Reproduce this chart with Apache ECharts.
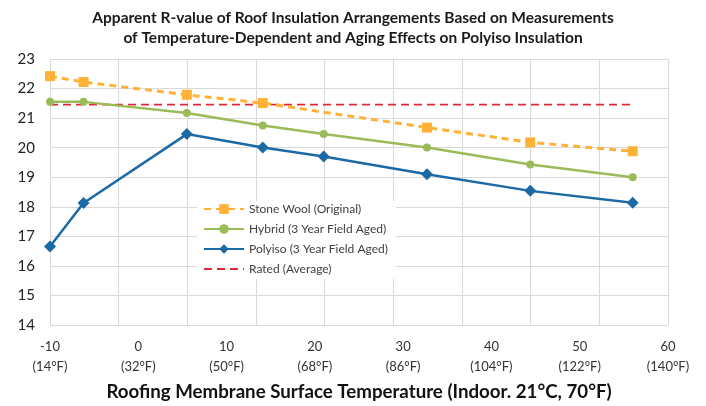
<!DOCTYPE html>
<html><head><meta charset="utf-8">
<script src="https://cdn.jsdelivr.net/npm/echarts@6/dist/echarts.min.js"></script>
<style>html,body{margin:0;padding:0;background:#fff}#c{width:706px;height:406px}</style>
</head><body><div id="c"></div>
<script>
const titleText = 'Apparent R-value of Roof Insulation Arrangements Based on Measurements\nof Temperature-Dependent and Aging Effects on Polyiso Insulation';
const xAxisTitle = 'Roofing Membrane Surface Temperature (Indoor. 21°C, 70°F)';
const xTickValues = [-10, 0, 10, 20, 30, 40, 50, 60];
const xTickLabels = ['-10\n(14°F)', '0\n(32°F)', '10\n(50°F)', '20\n(68°F)', '30\n(86°F)', '40\n(104°F)', '50\n(122°F)', '60\n(140°F)'];
const seriesNames = ['Stone Wool (Original)', 'Hybrid (3 Year Field Aged)', 'Polyiso (3 Year Field Aged)', 'Rated (Average)'];
const stoneWoolX = [-10, -6.2, 5.5, 14.1, 32.7, 44.4, 56.0];
const stoneWoolY = [22.42, 22.22, 21.79, 21.51, 20.68, 20.18, 19.88];
const hybridX = [-10, -6.2, 5.5, 14.1, 21.0, 32.7, 44.4, 56.0];
const hybridY = [21.55, 21.55, 21.17, 20.75, 20.46, 20.01, 19.43, 19.0];
const polyisoX = [-10, -6.2, 5.5, 14.1, 21.0, 32.7, 44.4, 56.0];
const polyisoY = [16.66, 18.13, 20.46, 20.01, 19.70, 19.10, 18.54, 18.14];
const ratedX = [-10, 56.0];
const ratedY = [21.46, 21.46];

const pair = (xs, ys) => xs.map((x, i) => [x, ys[i]]);
const FONT = 'Lato, "Open Sans", sans-serif';

const chart = echarts.init(document.getElementById('c'), null, {renderer: 'canvas'});
chart.setOption({
  animation: false,
  backgroundColor: '#fff',
  textStyle: {fontFamily: FONT},
  title: {
    text: titleText, left: 'center', top: 3,
    textStyle: {fontFamily: FONT, fontSize: 15.5, fontWeight: 'bold', color: '#1a1a1a', lineHeight: 20}
  },
  grid: {left: 50, right: 38, top: 59, bottom: 77},
  legend: {
    orient: 'vertical', left: 197, top: 201,
    backgroundColor: '#fff', padding: [2, 8, 4, 6],
    itemWidth: 40, itemHeight: 12, itemGap: 8,
    textStyle: {fontFamily: FONT, fontSize: 12, color: '#404040'},
    data: [seriesNames[0], seriesNames[1], seriesNames[2], {name: seriesNames[3], itemStyle: {opacity: 0}}]
  },
  xAxis: [{
    type: 'value', min: -10, max: 60, interval: 10,
    axisLine: {show: false}, axisTick: {show: false}, splitLine: {show: false},
    axisLabel: {
      margin: 12, fontSize: 13, color: '#333', lineHeight: 20, fontFamily: FONT,
      formatter: v => { const i = xTickValues.indexOf(Math.round(v)); return i >= 0 ? xTickLabels[i] : ''; }
    },
    name: xAxisTitle, nameLocation: 'middle', nameGap: 48,
    nameTextStyle: {fontFamily: FONT, fontSize: 18.7, fontWeight: 'bold', color: '#111'}
  }, {
    type: 'value', min: 0, max: 9, interval: 1, position: 'bottom',
    axisLine: {show: false}, axisTick: {show: false}, axisLabel: {show: false},
    splitLine: {show: true, lineStyle: {color: '#d9d9d9', width: 1}}
  }],
  yAxis: {
    type: 'value', min: 14, max: 23, interval: 1,
    axisLine: {show: false}, axisTick: {show: false},
    axisLabel: {fontSize: 15, color: '#222', margin: 15, fontFamily: FONT},
    splitLine: {lineStyle: {color: '#d9d9d9', width: 1}}
  },
  series: [{
    name: seriesNames[0], type: 'line', data: pair(stoneWoolX, stoneWoolY),
    symbol: 'rect', symbolSize: 10, color: '#FFB236',
    lineStyle: {width: 3, type: [7, 5], color: '#FFB236'}, itemStyle: {color: '#FFB236'}, z: 4
  }, {
    name: seriesNames[1], type: 'line', data: pair(hybridX, hybridY),
    symbol: 'circle', symbolSize: 8, color: '#9BBB59',
    lineStyle: {width: 2.5, color: '#9BBB59'}, itemStyle: {color: '#9BBB59'}, z: 3
  }, {
    name: seriesNames[2], type: 'line', data: pair(polyisoX, polyisoY),
    symbol: 'diamond', symbolSize: 12, color: '#1B6AA5',
    lineStyle: {width: 2.5, color: '#1B6AA5'}, itemStyle: {color: '#1B6AA5'}, z: 3
  }, {
    name: seriesNames[3], type: 'line', data: pair(ratedX, ratedY),
    symbol: 'none', color: '#E0283C',
    lineStyle: {width: 1.8, type: [8, 5], color: '#E0283C'}, z: 2
  }]
});
</script></body></html>
